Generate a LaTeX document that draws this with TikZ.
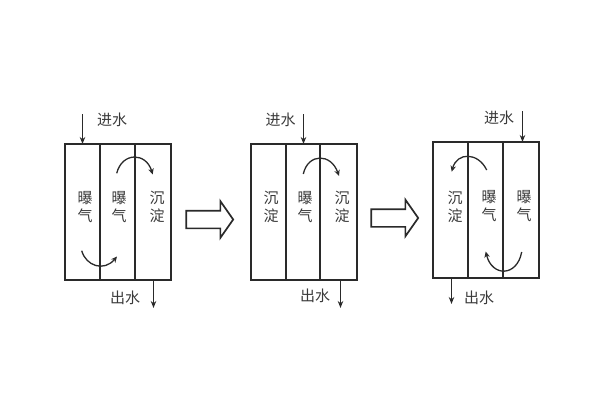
\documentclass[tikz,border=0pt]{standalone}
\usepackage{fontspec}
\setmainfont{Noto Sans CJK SC}
\usetikzlibrary{arrows.meta,shapes.arrows}
\definecolor{ink}{HTML}{2A2A2A}
\definecolor{txt}{HTML}{3A3A3A}
\tikzset{
  cell/.style={draw=ink,line width=2pt,rectangle,inner sep=0pt,outer sep=0pt,anchor=north west},
  lab/.style={text=txt,font=\fontsize{15}{18}\selectfont,align=center,inner sep=0pt},
  flow/.style={draw=ink,line width=1.3pt,-{Stealth[length=7pt,width=5.5pt]}},
  swirl/.style={draw=ink,line width=1.3pt,-{Stealth[length=6pt,width=5.5pt]}},
  bigarrow/.style={single arrow,draw=ink,line width=1.7pt,inner sep=0pt,outer sep=0pt,minimum height=47pt,single arrow head extend=9.5pt,single arrow tip angle=110}
}
\begin{document}
\begin{tikzpicture}[x=1pt,y=-1pt]
\useasboundingbox (0,0) rectangle (600,400);
% panel 1
\node[cell,minimum width=35pt,minimum height=136pt] (a1) at (65,144) {};
\node[cell,minimum width=35pt,minimum height=136pt] (a2) at (100,144) {};
\node[cell,minimum width=36pt,minimum height=136pt] (a3) at (135,144) {};
\node[lab] (ta1) at (85,207) {曝\\气};
\node[lab] (ta2) at (119,207) {曝\\气};
\node[lab] (ta3) at (157,207) {沉\\淀};
\coordinate (ain) at (82.5,114);
\coordinate (aout) at (153.5,308);
\draw[flow] (ain) -- (ain |- a1.north);
\draw[flow] (aout |- a3.south) -- (aout);
\node[lab] (tain) at (112,119.5) {进水};
\node[lab] (taout) at (125,298) {出水};
\coordinate (as1) at (116.7,173.3);
\coordinate (as2) at (152.7,174.5);
\draw[swirl] (as1) .. controls (122,152) and (146,152) .. (as2);
\coordinate (as3) at (81.7,250.7);
\coordinate (as4) at (117,256.5);
\draw[swirl] (as3) .. controls (86,266) and (104,272) .. (as4);
% panel 2
\node[cell,minimum width=35pt,minimum height=136pt] (b1) at (251,144) {};
\node[cell,minimum width=34pt,minimum height=136pt] (b2) at (286,144) {};
\node[cell,minimum width=37pt,minimum height=136pt] (b3) at (320,144) {};
\node[lab] (tb1) at (271,207) {沉\\淀};
\node[lab] (tb2) at (305,207) {曝\\气};
\node[lab] (tb3) at (342,207) {沉\\淀};
\coordinate (bin) at (303.5,114);
\coordinate (bout) at (340.5,308);
\draw[flow] (bin) -- (bin |- b2.north);
\draw[flow] (bout |- b3.south) -- (bout);
\node[lab] (tbin) at (280.7,119.5) {进水};
\node[lab] (tbout) at (315,296) {出水};
\coordinate (bs1) at (303.3,174);
\coordinate (bs2) at (339,176);
\draw[swirl] (bs1) .. controls (308,153) and (331,153) .. (bs2);
% panel 3
\node[cell,minimum width=35pt,minimum height=136pt] (c1) at (433,142) {};
\node[cell,minimum width=35pt,minimum height=136pt] (c2) at (468,142) {};
\node[cell,minimum width=36pt,minimum height=136pt] (c3) at (503,142) {};
\node[lab] (tc1) at (455,206.5) {沉\\淀};
\node[lab] (tc2) at (489,206.5) {曝\\气};
\node[lab] (tc3) at (524,206.5) {曝\\气};
\coordinate (cin) at (522.5,111);
\coordinate (cout) at (451.5,304);
\draw[flow] (cin) -- (cin |- c3.north);
\draw[flow] (cout |- c1.south) -- (cout);
\node[lab] (tcin) at (499,118) {进水};
\node[lab] (tcout) at (479,298) {出水};
\coordinate (cs1) at (486.7,170);
\coordinate (cs2) at (451.7,171.7);
\draw[swirl] (cs1) .. controls (478,152) and (457,152) .. (cs2);
\coordinate (cs3) at (521.7,252);
\coordinate (cs4) at (485.7,251.5);
\draw[swirl] (cs3) .. controls (517,277) and (492,277) .. (cs4);
% transition arrows
\node[bigarrow] (m1) at (206.6,219.5) {\rule{0pt}{16pt}};
\node[bigarrow] (m2) at (391.6,218) {\rule{0pt}{16pt}};
\end{tikzpicture}
\end{document}
